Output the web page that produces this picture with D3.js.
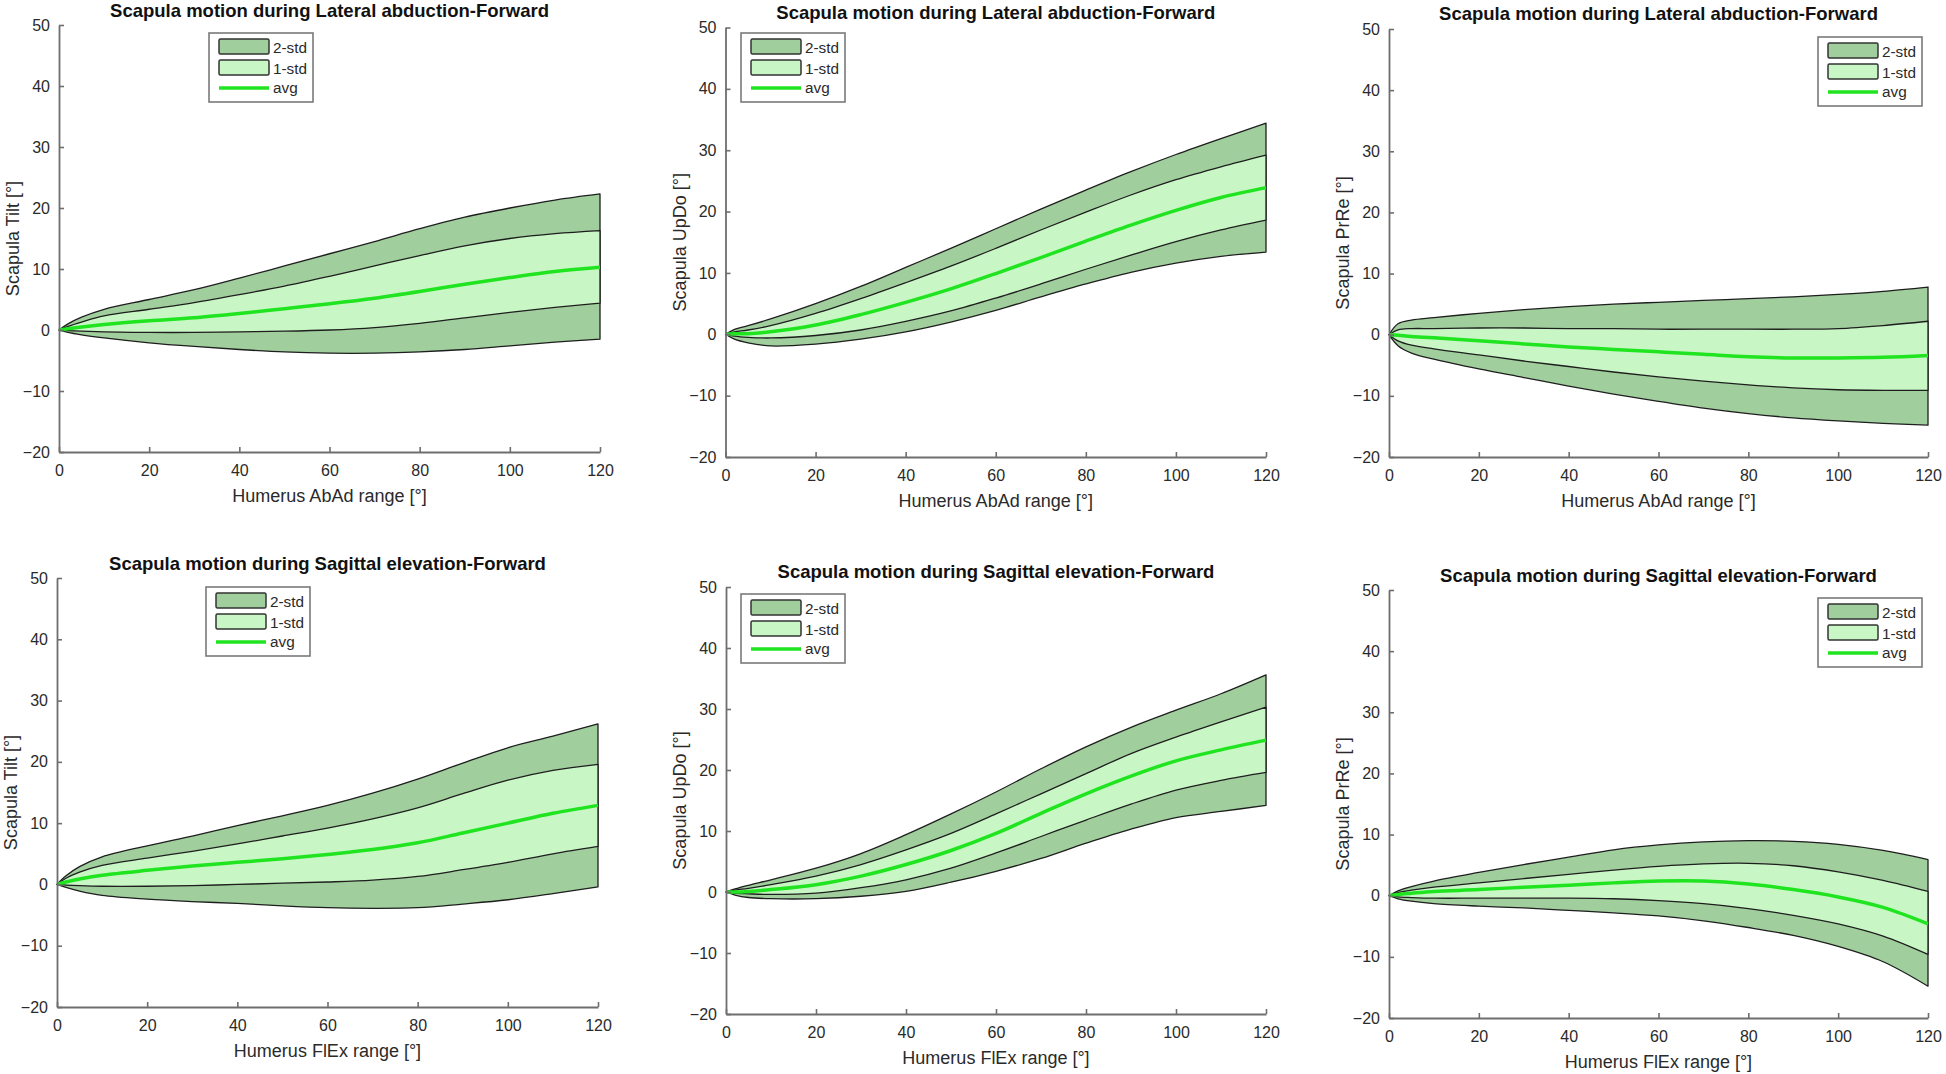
<!DOCTYPE html>
<html>
<head>
<meta charset="utf-8">
<script src="https://cdn.jsdelivr.net/npm/d3@7"></script>
<style>
  html, body { margin: 0; padding: 0; background: #fff; }
  svg { display: block; font-family: "Liberation Sans", Arial, Helvetica, sans-serif; }
</style>
</head>
<body>
<svg id="chart" width="1946" height="1074"></svg>
<script>
// ---------------- DATA ----------------
const xAngles = [0, 2, 5, 10, 20, 30, 40, 50, 60, 70, 80, 90, 100, 110, 120];
const xTicks = [0, 20, 40, 60, 80, 100, 120];
const yTicks = [-20, -10, 0, 10, 20, 30, 40, 50];
const legendLabels = ["2-std", "1-std", "avg"];

const panelTitles = [
  "Scapula motion during Lateral abduction-Forward",
  "Scapula motion during Lateral abduction-Forward",
  "Scapula motion during Lateral abduction-Forward",
  "Scapula motion during Sagittal elevation-Forward",
  "Scapula motion during Sagittal elevation-Forward",
  "Scapula motion during Sagittal elevation-Forward"
];
const yLabels = ["Scapula Tilt [°]", "Scapula UpDo [°]", "Scapula PrRe [°]",
                 "Scapula Tilt [°]", "Scapula UpDo [°]", "Scapula PrRe [°]"];
const xLabels = ["Humerus AbAd range [°]", "Humerus AbAd range [°]", "Humerus AbAd range [°]",
                 "Humerus FlEx range [°]", "Humerus FlEx range [°]", "Humerus FlEx range [°]"];

// Panel 1: Tilt, lateral abduction
const tiltAbAdUpper2 = [0, 1.0, 2.1, 3.4, 5.0, 6.6, 8.5, 10.5, 12.5, 14.5, 16.6, 18.5, 20.0, 21.3, 22.3];
const tiltAbAdUpper1 = [0, 0.6, 1.3, 2.3, 3.4, 4.5, 5.8, 7.2, 8.8, 10.5, 12.2, 13.8, 15.0, 15.8, 16.3];
const tiltAbAdAvg    = [0, 0.2, 0.5, 0.9, 1.5, 2.0, 2.7, 3.5, 4.3, 5.2, 6.3, 7.5, 8.6, 9.6, 10.3];
const tiltAbAdLower1 = [0, -0.1, -0.2, -0.3, -0.4, -0.4, -0.3, -0.2, 0.0, 0.4, 1.1, 2.0, 2.9, 3.7, 4.4];
const tiltAbAdLower2 = [0, -0.4, -0.8, -1.3, -2.1, -2.7, -3.2, -3.6, -3.8, -3.8, -3.6, -3.2, -2.6, -2.0, -1.5];

// Panel 2: UpDo, lateral abduction
const updoAbAdUpper2 = [0, 0.8, 1.4, 2.5, 5.0, 7.8, 10.9, 14.0, 17.2, 20.4, 23.5, 26.5, 29.3, 31.9, 34.4];
const updoAbAdUpper1 = [0, 0.4, 0.7, 1.4, 3.4, 5.8, 8.4, 11.1, 14.0, 17.0, 19.9, 22.7, 25.2, 27.3, 29.2];
const updoAbAdAvg    = [0, 0.1, 0.1, 0.4, 1.5, 3.2, 5.2, 7.4, 9.9, 12.5, 15.2, 17.8, 20.2, 22.3, 23.9];
const updoAbAdLower1 = [0, -0.3, -0.5, -0.6, -0.2, 0.7, 2.1, 3.8, 5.9, 8.2, 10.6, 12.9, 15.1, 17.0, 18.6];
const updoAbAdLower2 = [0, -0.8, -1.4, -1.9, -1.6, -0.8, 0.4, 2.0, 3.9, 6.1, 8.2, 10.1, 11.6, 12.7, 13.4];

// Panel 3: PrRe, lateral abduction
const prreAbAdUpper2 = [0, 1.8, 2.4, 2.8, 3.5, 4.1, 4.6, 5.0, 5.3, 5.6, 5.9, 6.2, 6.6, 7.1, 7.8];
const prreAbAdUpper1 = [0, 0.8, 1.0, 1.0, 1.1, 1.1, 1.0, 1.0, 0.9, 0.9, 0.9, 0.9, 1.0, 1.5, 2.2];
const prreAbAdAvg    = [0, -0.1, -0.3, -0.5, -1.0, -1.5, -2.0, -2.4, -2.8, -3.2, -3.6, -3.8, -3.8, -3.7, -3.4];
const prreAbAdLower1 = [0, -1.0, -1.7, -2.3, -3.3, -4.3, -5.2, -6.1, -6.9, -7.6, -8.2, -8.7, -9.0, -9.1, -9.1];
const prreAbAdLower2 = [0, -1.8, -3.0, -4.0, -5.6, -7.0, -8.4, -9.7, -10.9, -12.0, -12.9, -13.6, -14.1, -14.5, -14.8];

// Panel 4: Tilt, sagittal elevation
const tiltFlExUpper2 = [0, 1.4, 2.9, 4.5, 6.3, 7.9, 9.6, 11.2, 12.9, 14.9, 17.2, 19.8, 22.3, 24.2, 26.2];
const tiltFlExUpper1 = [0, 1.0, 2.0, 3.1, 4.3, 5.4, 6.6, 7.9, 9.2, 10.7, 12.5, 14.8, 17.0, 18.6, 19.6];
const tiltFlExAvg    = [0, 0.4, 0.9, 1.5, 2.3, 3.0, 3.6, 4.2, 4.9, 5.7, 6.8, 8.4, 10.0, 11.6, 12.9];
const tiltFlExLower1 = [0, -0.1, -0.2, -0.3, -0.3, -0.2, 0.0, 0.2, 0.4, 0.7, 1.3, 2.4, 3.6, 5.0, 6.2];
const tiltFlExLower2 = [0, -0.5, -1.1, -1.8, -2.4, -2.8, -3.1, -3.5, -3.8, -3.9, -3.8, -3.2, -2.5, -1.5, -0.4];

// Panel 5: UpDo, sagittal elevation
const updoFlExUpper2 = [0, 0.5, 1.1, 2.0, 3.9, 6.3, 9.4, 12.8, 16.4, 20.2, 23.8, 27.0, 29.8, 32.5, 35.6];
const updoFlExUpper1 = [0, 0.3, 0.6, 1.2, 2.6, 4.5, 6.9, 9.6, 12.8, 16.1, 19.4, 22.7, 25.4, 27.9, 30.3];
const updoFlExAvg    = [0, 0.0, 0.1, 0.4, 1.2, 2.6, 4.5, 6.8, 9.6, 12.9, 16.1, 19.0, 21.5, 23.3, 24.9];
const updoFlExLower1 = [0, -0.2, -0.3, -0.4, -0.2, 0.7, 2.0, 3.9, 6.4, 9.1, 11.8, 14.4, 16.7, 18.3, 19.6];
const updoFlExLower2 = [0, -0.5, -0.9, -1.1, -1.1, -0.7, 0.1, 1.6, 3.4, 5.5, 8.0, 10.3, 12.2, 13.2, 14.2];

// Panel 6: PrRe, sagittal elevation
const prreFlExUpper2 = [0, 0.8, 1.5, 2.4, 3.8, 5.1, 6.3, 7.5, 8.3, 8.8, 9.0, 8.9, 8.4, 7.4, 5.9];
const prreFlExUpper1 = [0, 0.5, 0.9, 1.4, 2.1, 2.8, 3.5, 4.2, 4.8, 5.2, 5.3, 4.9, 3.9, 2.5, 0.7];
const prreFlExAvg    = [0, 0.2, 0.4, 0.7, 1.0, 1.4, 1.7, 2.1, 2.4, 2.4, 1.9, 1.0, -0.2, -1.9, -4.6];
const prreFlExLower1 = [0, -0.2, -0.3, -0.4, -0.4, -0.4, -0.4, -0.5, -0.8, -1.3, -2.1, -3.2, -4.6, -6.6, -9.6];
const prreFlExLower2 = [0, -0.5, -0.9, -1.3, -1.7, -2.0, -2.4, -2.8, -3.3, -4.1, -5.2, -6.5, -8.3, -10.8, -14.8];

// ---------------- LAYOUT / STYLE ----------------
const panelSeries = [
  [tiltAbAdUpper2, tiltAbAdUpper1, tiltAbAdAvg, tiltAbAdLower1, tiltAbAdLower2],
  [updoAbAdUpper2, updoAbAdUpper1, updoAbAdAvg, updoAbAdLower1, updoAbAdLower2],
  [prreAbAdUpper2, prreAbAdUpper1, prreAbAdAvg, prreAbAdLower1, prreAbAdLower2],
  [tiltFlExUpper2, tiltFlExUpper1, tiltFlExAvg, tiltFlExLower1, tiltFlExLower2],
  [updoFlExUpper2, updoFlExUpper1, updoFlExAvg, updoFlExLower1, updoFlExLower2],
  [prreFlExUpper2, prreFlExUpper1, prreFlExAvg, prreFlExLower1, prreFlExLower2]
];

const layout = [
  { L: 59,   R: 600,  T: 25,  B: 452,  titleY: 10,  legX: 209,  legY: 33 },
  { L: 725.5,R: 1266, T: 27.5,B: 457,  titleY: 12.7,legX: 741,  legY: 33 },
  { L: 1389, R: 1928, T: 29,  B: 457,  titleY: 13.3,legX: 1818, legY: 37 },
  { L: 57,   R: 598,  T: 578, B: 1007, titleY: 563, legX: 206,  legY: 587 },
  { L: 726,  R: 1266, T: 587, B: 1014, titleY: 571, legX: 741,  legY: 594 },
  { L: 1389, R: 1928, T: 590, B: 1018, titleY: 575, legX: 1818, legY: 598 }
];

const COL2 = "#a0cf9d";
const COL1 = "#c8f7c5";
const COLAVG = "#1fe41f";
const EDGE = "#1e1e1e";
const AXIS = "#6e6e6e";
const TXT = "#2a2a2a";
const CURVE = d3.curveCatmullRom.alpha(0.5);

const svg = d3.select("#chart");

panelSeries.forEach((series, i) => {
  const lay = layout[i];
  const [up2, up1, avg, lo1, lo2] = series;
  const x = d3.scaleLinear().domain([0, 120]).range([lay.L, lay.R]);
  const y = d3.scaleLinear().domain([-20, 50]).range([lay.B, lay.T]);
  const g = svg.append("g");

  const band = (hi, lo) => d3.area()
    .x((d, k) => x(xAngles[k]))
    .y0((d, k) => y(lo[k]))
    .y1((d, k) => y(hi[k]))
    .curve(CURVE)(xAngles);

  g.append("path").attr("d", band(up2, lo2))
    .attr("fill", COL2).attr("stroke", EDGE).attr("stroke-width", 1.3).attr("stroke-linejoin", "round");
  g.append("path").attr("d", band(up1, lo1))
    .attr("fill", COL1).attr("stroke", EDGE).attr("stroke-width", 1.3).attr("stroke-linejoin", "round");

  const line = d3.line()
    .x((d, k) => x(xAngles[k]))
    .y((d, k) => y(avg[k]))
    .curve(CURVE);
  g.append("path").attr("d", line(xAngles))
    .attr("fill", "none").attr("stroke", COLAVG).attr("stroke-width", 3.5);

  // axes
  const xAxis = d3.axisBottom(x).tickValues(xTicks).tickSizeInner(-5).tickSizeOuter(0).tickPadding(13);
  const yAxis = d3.axisLeft(y).tickValues(yTicks).tickSizeInner(-5).tickSizeOuter(0).tickPadding(9);
  const gx = g.append("g").attr("transform", `translate(0,${lay.B})`).call(xAxis);
  const gy = g.append("g").attr("transform", `translate(${lay.L},0)`).call(yAxis);
  [gx, gy].forEach(a => {
    a.select(".domain").attr("stroke", AXIS).attr("stroke-width", 1.8);
    a.selectAll(".tick line").attr("stroke", AXIS).attr("stroke-width", 1.6);
    a.selectAll(".tick text").attr("fill", TXT).style("font-size", "16px")
      .style("font-family", '"Liberation Sans", Arial, sans-serif');
  });

  // titles / labels
  const cx = (lay.L + lay.R) / 2;
  g.append("text").attr("x", cx).attr("y", lay.titleY + 6.6)
    .attr("text-anchor", "middle").attr("font-weight", "bold").attr("font-size", 18.5)
    .attr("fill", "#111").text(panelTitles[i]);
  g.append("text").attr("x", cx).attr("y", lay.B + 44 + 6.4)
    .attr("text-anchor", "middle").attr("font-size", 18).attr("fill", TXT).text(xLabels[i]);
  const cy = (lay.T + lay.B) / 2;
  g.append("text")
    .attr("transform", `translate(${lay.L - 46 + 6.4},${cy}) rotate(-90)`)
    .attr("text-anchor", "middle").attr("font-size", 18).attr("fill", TXT).text(yLabels[i]);

  // legend
  const lg = g.append("g").attr("transform", `translate(${lay.legX},${lay.legY})`);
  lg.append("rect").attr("x", 0).attr("y", 0).attr("width", 104).attr("height", 69)
    .attr("fill", "#fff").attr("stroke", "#7a7a7a").attr("stroke-width", 1.6);
  lg.append("rect").attr("x", 10).attr("y", 6).attr("width", 50).attr("height", 15).attr("rx", 1.5)
    .attr("fill", COL2).attr("stroke", "#333").attr("stroke-width", 1.5);
  lg.append("rect").attr("x", 10).attr("y", 27).attr("width", 50).attr("height", 15).attr("rx", 1.5)
    .attr("fill", COL1).attr("stroke", "#333").attr("stroke-width", 1.5);
  lg.append("line").attr("x1", 10).attr("x2", 60).attr("y1", 55).attr("y2", 55)
    .attr("stroke", COLAVG).attr("stroke-width", 3.5);
  const rowBase = [19.5, 40.5, 59.5];
  legendLabels.forEach((lab, k) => {
    lg.append("text").attr("x", 64).attr("y", rowBase[k]).attr("font-size", 15.3)
      .attr("fill", TXT).text(lab);
  });
});
</script>
</body>
</html>
